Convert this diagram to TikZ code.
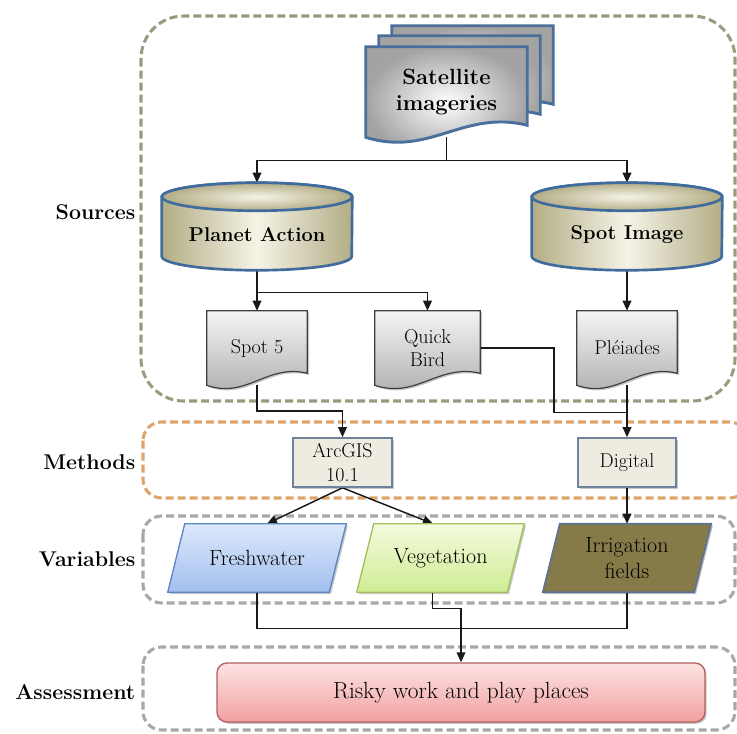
\documentclass[tikz,border=0pt]{standalone}
\usepackage{fontspec}
\usetikzlibrary{arrows.meta,calc,shadows}

\definecolor{grpolive}{HTML}{9C9A7E}
\definecolor{grporange}{HTML}{DDA46C}
\definecolor{grpgray}{HTML}{A8A8A8}
\definecolor{satedge}{HTML}{4A6F9A}
\definecolor{cyledge}{HTML}{3F6C9C}
\definecolor{cylside}{HTML}{B3AD86}
\definecolor{cylmid}{HTML}{F5F3E6}
\definecolor{boxfill}{HTML}{EEECE1}
\definecolor{boxedge}{HTML}{6E829B}
\definecolor{freshtop}{HTML}{DCE8FB}
\definecolor{freshbot}{HTML}{A2BFEE}
\definecolor{freshedge}{HTML}{5E86C2}
\definecolor{vegtop}{HTML}{F4FBDD}
\definecolor{vegbot}{HTML}{CFEC94}
\definecolor{vegedge}{HTML}{A3C05C}
\definecolor{irrfill}{HTML}{857A48}
\definecolor{irredge}{HTML}{5A7396}
\definecolor{risktop}{HTML}{FDE3E3}
\definecolor{riskbot}{HTML}{F2A0A0}
\definecolor{riskedge}{HTML}{B0605E}

\pgfdeclarelayer{wires}
\pgfdeclarelayer{fills}
\pgfsetlayers{wires,fills,main}

% document outline with a wavy bottom around node #1, shifted by (#2,#3);
% #4 = horizontal reach of the control points, #5/#6 = crest/trough depth
\newcommand\docshape[7]{%
  \path[#7] ($(#1.north west)+(#2,#3)$) -- ($(#1.north east)+(#2,#3)$)
    -- ($(#1.south east)+({#2},{#3-12})$)
    .. controls ($(#1.south east)+({#2-#4},{#3-#5})$) and ($(#1.south west)+({#2+#4},{#3+#6})$)
    .. ($(#1.south west)+(#2,#3)$) -- cycle;}

% upright cylinder filling node #1
\newcommand\cylshape[1]{%
  \path[cylbody] ($(#1.north west)+(0,14)$) -- ($(#1.south west)+(0,-14)$)
    arc[start angle=180,end angle=360,x radius=71.25pt,y radius=10.5pt]
    -- ($(#1.north east)+(0,14)$)
    arc[start angle=0,end angle=180,x radius=71.25pt,y radius=10.5pt] -- cycle;
  \path[cyltop] ($(#1.north)+(0,14)$) ellipse[x radius=71.25pt,y radius=10.5pt];}

% parallelogram filling node #1
\newcommand\slantshape[2]{%
  \path[#2] ($(#1.north west)+(17,0)$) -- (#1.north east)
    -- ($(#1.south east)+(-17,0)$) -- (#1.south west) -- cycle;}

% text lowered inside its node without changing the node's size
\newcommand\lowered[2]{\raisebox{-#1}[\height][\depth]{#2}}

\begin{document}
\begin{tikzpicture}[x=0.75pt,y=-0.75pt,
  wire/.style={draw=black!90,line width=1.1pt},
  arr/.style={wire,-{Triangle[length=7.5pt,width=6.5pt]}},
  grp/.style={line width=2.3pt,dash pattern=on 6pt off 3pt},
  lbl/.style={anchor=east,font=\fontsize{16}{19}\selectfont\bfseries},
  holder/.style={rectangle,inner sep=0pt,align=center},
  bigtxt/.style={font=\fontsize{15}{18}\selectfont\bfseries},
  smalltxt/.style={font=\fontsize{15}{18.5}\selectfont},
  vartxt/.style={font=\fontsize{16.5}{19.5}\selectfont},
  softshadow/.style={drop shadow={shadow xshift=1.3pt,shadow yshift=-1.3pt,opacity=0.22,fill=black}},
  satdoc/.style={draw=satedge,line width=2.2pt,inner color=white,outer color=black!36},
  smalldoc/.style={draw=black!75,line width=0.9pt,top color=black!4,bottom color=black!33,softshadow},
  cylbody/.style={draw=cyledge,line width=2pt,left color=cylside,right color=cylside,middle color=cylmid},
  cyltop/.style={draw=cyledge,line width=2pt,inner color=cylmid,outer color=cylside},
  method/.style={rectangle,align=center,fill=boxfill,draw=boxedge,line width=1.2pt,
    minimum height=36.75pt,smalltxt,softshadow},
  freshstyle/.style={draw=freshedge,line width=1pt,top color=freshtop,bottom color=freshbot,softshadow},
  vegstyle/.style={draw=vegedge,line width=1pt,top color=vegtop,bottom color=vegbot,softshadow},
  irrstyle/.style={draw=irredge,line width=1.2pt,fill=irrfill,softshadow},
]
\useasboundingbox (0,0) rectangle (737,733);

% row labels
\node[lbl] (srclbl) at (140,212) {Sources};
\node[lbl] (metlbl) at (140,462) {Methods};
\node[lbl] (varlbl) at (140,559) {Variables};
\node[lbl] (asslbl) at (140,692) {Assessment};

% sources
\node[holder,minimum width=120.75pt,minimum height=67.5pt,
  font=\fontsize{16.5}{19.5}\selectfont\bfseries] (sat) at (446.5,92) {Satellite\\imageries};
\node[holder,minimum width=142.5pt,minimum height=65.25pt,bigtxt] (planet) at (257,226.5)
  {\lowered{6pt}{Planet Action}};
\node[holder,minimum width=142.5pt,minimum height=65.25pt,bigtxt] (spotimg) at (627,226.5)
  {\lowered{6pt}{Spot Image}};
\node[holder,minimum width=75pt,minimum height=55.5pt,smalltxt] (spot5) at (257,348) {Spot 5};
\node[holder,minimum width=78.75pt,minimum height=55.5pt,smalltxt,
  font=\fontsize{15}{17.5}\selectfont] (quick) at (427.5,348) {Quick\\Bird};
\node[holder,minimum width=75pt,minimum height=55.5pt,smalltxt] (pleiades) at (627,348) {Pléiades};

% methods
\node[method,minimum width=74.25pt] (arcgis) at (342.5,462.5) {ArcGIS\\10.1};
\node[method,minimum width=73.5pt] (digital) at (627,462.5) {Digital};

% variables
\node[holder,minimum width=133.5pt,minimum height=51pt,vartxt] (fresh) at (257,558) {Freshwater};
\node[holder,minimum width=125.25pt,minimum height=51pt,vartxt] (veg) at (440.5,558) {Vegetation};
\node[holder,minimum width=126pt,minimum height=51pt,vartxt] (irrig) at (627,558) {Irrigation\\fields};

% assessment
\node[rectangle,rounded corners=7.5pt,draw=riskedge,line width=1pt,top color=risktop,
  bottom color=riskbot,minimum width=366pt,minimum height=44.25pt,
  font=\fontsize{17.5}{20}\selectfont,softshadow]
  (risky) at (461,692.5) {Risky work and play places};

\begin{pgfonlayer}{fills}
  \docshape{sat}{26}{-21}{64}{28}{20}{satdoc}
  \docshape{sat}{13}{-11}{64}{28}{20}{satdoc}
  \docshape{sat}{0}{0}{64}{28}{20}{satdoc}
  \cylshape{planet}
  \cylshape{spotimg}
  \docshape{spot5}{0}{0}{40}{22}{14}{smalldoc}
  \docshape{quick}{0}{0}{42}{22}{14}{smalldoc}
  \docshape{pleiades}{0}{0}{40}{22}{14}{smalldoc}
  \slantshape{fresh}{freshstyle}
  \slantshape{veg}{vegstyle}
  \slantshape{irrig}{irrstyle}
\end{pgfonlayer}

\begin{pgfonlayer}{wires}
  % dashed group frames
  \draw[grp,draw=grpolive,rounded corners=32pt] (141,16) rectangle (735,401);
  \draw[grp,draw=grporange,rounded corners=14pt] (143,422) rectangle (748,498);
  \draw[grp,draw=grpgray,rounded corners=14pt] (143,516) rectangle (735,603);
  \draw[grp,draw=grpgray,rounded corners=14pt] (143,647) rectangle (735,730);

  % connectors
  \coordinate (satsplit) at ($(sat.south)+(0,23)$);
  \draw[wire] (sat.south) -- (satsplit);
  \draw[arr] (satsplit) -| (planet.north);
  \draw[arr] (satsplit) -| (spotimg.north);

  \coordinate (pasplit) at ($(planet.south)+(0,22)$);
  \draw[wire] (planet.south) -- (pasplit);
  \draw[arr] (pasplit) -- (spot5.north);
  \draw[arr] (pasplit) -| (quick.north);
  \draw[arr] (spotimg.south) -- (pleiades.north);

  \draw[arr] (spot5.south) |- ($(arcgis.north)+(0,-26)$) -- (arcgis.north);
  \coordinate (qbjoin) at ($(pleiades.south)+(0,27)$);
  \draw[wire] (quick.east) -| ($(qbjoin)+(-73,0)$) -- (qbjoin);
  \draw[arr] (pleiades.south) -- (digital.north);

  \draw[arr] (arcgis.south) -- ($(fresh.north)+(10,0)$);
  \draw[arr] (arcgis.south) -- ($(veg.north)+(-7.5,0)$);
  \draw[arr] (digital.south) -- (irrig.north);

  \draw[wire] (fresh.south) |- ($(irrig.south)+(0,36)$) -- (irrig.south);
  \draw[arr] ($(veg.south)+(-8,0)$) |- ($(risky.north)+(0,-54)$) -- (risky.north);
\end{pgfonlayer}
\end{tikzpicture}
\end{document}
